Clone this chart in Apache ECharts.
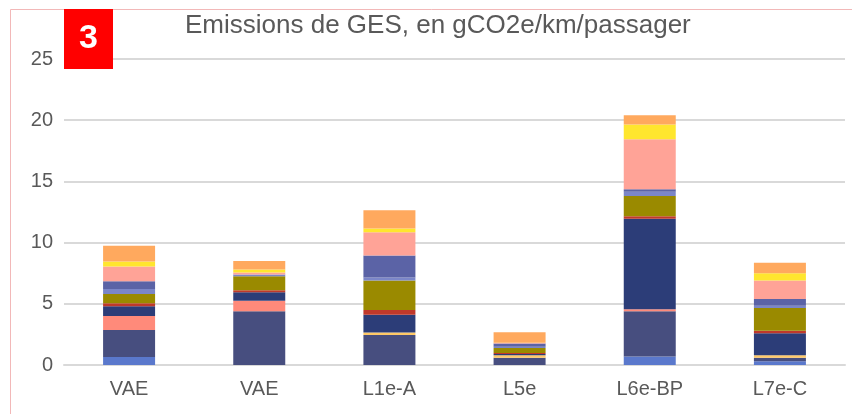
<!DOCTYPE html>
<html>
<head>
<meta charset="utf-8">
<script src="https://cdn.jsdelivr.net/npm/echarts@6/dist/echarts.min.js"></script>
<style>
  html, body { margin: 0; padding: 0; background: #ffffff; }
  #chart { width: 852px; height: 414px; }
</style>
</head>
<body>
<div id="chart"></div>
<script>
// Vehicle categories on the x axis
const categories = ['VAE', 'VAE', 'L1e-A', 'L5e', 'L6e-BP', 'L7e-C'];

// Emission components (gCO2e/km/passager), stacked bottom to top
const seg1  = [0.65, 0.00, 0.00, 0.00, 0.70, 0.30];
const seg2  = [2.20, 4.40, 2.45, 0.60, 3.70, 0.30];
const seg3  = [1.15, 0.85, 0.00, 0.00, 0.15, 0.00];
const seg4  = [0.00, 0.00, 0.20, 0.20, 0.00, 0.20];
const seg5  = [0.80, 0.70, 1.45, 0.10, 7.40, 1.80];
const seg6  = [0.25, 0.15, 0.40, 0.08, 0.20, 0.20];
const seg7  = [0.75, 1.15, 2.40, 0.40, 1.65, 1.85];
const seg8  = [0.40, 0.15, 0.25, 0.12, 0.35, 0.20];
const seg9  = [0.65, 0.00, 1.80, 0.25, 0.20, 0.55];
const seg10 = [1.20, 0.15, 1.90, 0.05, 4.10, 1.50];
const seg11 = [0.40, 0.25, 0.30, 0.02, 1.20, 0.60];
const seg12 = [1.30, 0.70, 1.50, 0.85, 0.75, 0.85];

const segments = [seg1, seg2, seg3, seg4, seg5, seg6, seg7, seg8, seg9, seg10, seg11, seg12];
const segColors = ['#5a78cc', '#474e7f', '#ff8a7a', '#ffc966', '#2c3d78', '#c0392b',
                   '#9a8a00', '#7b86c8', '#5b63a6', '#ffa397', '#ffe62e', '#ffa95e'];

// Value axis ticks
const yTicks = [0, 5, 10, 15, 20, 25];

const chart = echarts.init(document.getElementById('chart'), null, { renderer: 'canvas' });

const series = segments.map((vals, i) => ({
  name: 'Composante ' + (i + 1),
  type: 'bar',
  stack: 'ges',
  barWidth: 52,
  data: vals,
  itemStyle: { color: segColors[i] },
  emphasis: { disabled: true }
}));

chart.setOption({
  animation: false,
  backgroundColor: '#ffffff',
  textStyle: { fontFamily: 'Liberation Sans, Arial, sans-serif' },
  title: {
    text: 'Emissions de GES, en gCO2e/km/passager',
    left: 180,
    top: 8,
    textStyle: { fontSize: 26, fontWeight: 'normal', color: '#595959', fontFamily: 'Liberation Sans' }
  },
  grid: { left: 64, right: 7, top: 59, bottom: 49, containLabel: false },
  xAxis: {
    type: 'category',
    data: categories,
    axisLine: { show: true, lineStyle: { color: '#d9d9d9', width: 2 } },
    axisTick: { show: false },
    axisLabel: { color: '#595959', fontSize: 20, margin: 14 }
  },
  yAxis: {
    type: 'value',
    min: yTicks[0],
    max: yTicks[yTicks.length - 1],
    interval: 5,
    axisLine: { show: false },
    axisTick: { show: false },
    axisLabel: { color: '#595959', fontSize: 20, margin: 11 },
    splitLine: { lineStyle: { color: '#d9d9d9', width: 2 } }
  },
  series: series,
  graphic: [
    {
      type: 'rect',
      shape: { x: 10.5, y: 9.5, width: 900, height: 500 },
      style: { fill: 'none', stroke: '#f2b8b8', lineWidth: 1 },
      silent: true,
      z: 0
    },
    {
      type: 'rect',
      shape: { x: 64, y: 9, width: 49, height: 60 },
      style: { fill: '#ff0000' },
      z: 10
    },
    {
      type: 'text',
      x: 88.5,
      y: 39,
      style: {
        text: '3',
        fill: '#ffffff',
        font: 'bold 34px Liberation Sans',
        textAlign: 'center',
        textVerticalAlign: 'middle'
      },
      z: 11
    }
  ]
});
</script>
</body>
</html>
